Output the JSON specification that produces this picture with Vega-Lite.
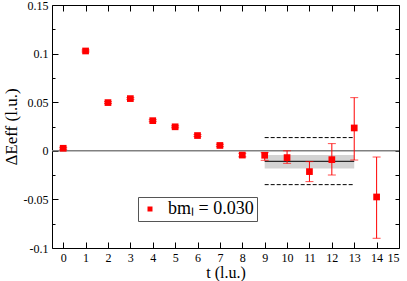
{
  "$schema": "https://vega.github.io/schema/vega-lite/v6.json",
  "autosize": {"type": "none"},
  "padding": {"left": 52, "top": 5, "right": 8, "bottom": 33},
  "width": 347,
  "height": 243,
  "background": "white",
  "config": {
    "view": {"stroke": null},
    "font": "Liberation Serif, DejaVu Serif, serif",
    "axis": {"domainColor": "black", "tickColor": "black", "labelColor": "black", "titleColor": "black", "labelFont": "Liberation Serif, DejaVu Serif, serif", "titleFont": "Liberation Serif, DejaVu Serif, serif", "grid": false, "titleFontWeight": "normal"},
    "legend": {"labelFont": "Liberation Serif, DejaVu Serif, serif"}
  },
  "datasets": {
    "pts": [
      {"t": 0, "y": 0.0026, "lo": 0.0016, "hi": 0.0036, "s": "bmₗ = 0.030"},
      {"t": 1, "y": 0.1027, "lo": 0.1017, "hi": 0.1037, "s": "bmₗ = 0.030"},
      {"t": 2, "y": 0.0496, "lo": 0.0486, "hi": 0.0506, "s": "bmₗ = 0.030"},
      {"t": 3, "y": 0.0537, "lo": 0.0527, "hi": 0.0547, "s": "bmₗ = 0.030"},
      {"t": 4, "y": 0.031, "lo": 0.03, "hi": 0.032, "s": "bmₗ = 0.030"},
      {"t": 5, "y": 0.0247, "lo": 0.0237, "hi": 0.0257, "s": "bmₗ = 0.030"},
      {"t": 6, "y": 0.0157, "lo": 0.0147, "hi": 0.0167, "s": "bmₗ = 0.030"},
      {"t": 7, "y": 0.0055, "lo": 0.0043, "hi": 0.0067, "s": "bmₗ = 0.030"},
      {"t": 8, "y": -0.0044, "lo": -0.0062, "hi": -0.0026, "s": "bmₗ = 0.030"},
      {"t": 9, "y": -0.0046, "lo": -0.0098, "hi": -0.0019, "s": "bmₗ = 0.030"},
      {"t": 10, "y": -0.007, "lo": -0.0129, "hi": 0.0, "s": "bmₗ = 0.030"},
      {"t": 11, "y": -0.0214, "lo": -0.0317, "hi": -0.0111, "s": "bmₗ = 0.030"},
      {"t": 12, "y": -0.0091, "lo": -0.0249, "hi": 0.0074, "s": "bmₗ = 0.030"},
      {"t": 13, "y": 0.0235, "lo": -0.0095, "hi": 0.0547, "s": "bmₗ = 0.030"},
      {"t": 14, "y": -0.0475, "lo": -0.09, "hi": -0.0064, "s": "bmₗ = 0.030"}
    ]
  },
  "resolve": {"axis": {"x": "independent", "y": "independent"}},
  "layer": [
    {
      "data": {"values": [{"t": 9, "t2": 13, "y": -0.0043, "y2": -0.0183}]},
      "mark": {"type": "rect", "color": "#d3d3d3"},
      "encoding": {
        "x": {"field": "t", "type": "quantitative", "scale": {"domain": [-0.5, 15], "nice": false, "zero": false},
              "axis": {"orient": "top", "values": [0,1,2,3,4,5,6,7,8,9,10,11,12,13,14,15], "labels": false, "tickSize": -6, "title": null, "domainWidth": 1}},
        "x2": {"field": "t2"},
        "y": {"field": "y", "type": "quantitative", "scale": {"domain": [-0.1, 0.15], "nice": false, "zero": false},
              "axis": {"orient": "right", "values": [-0.075,-0.05,-0.025,0,0.025,0.05,0.075,0.1,0.125], "labels": false, "tickSize": -4, "title": null}},
        "y2": {"field": "y2"}
      }
    },
    {
      "data": {"values": [{"y": 0}]},
      "mark": {"type": "rule", "color": "#808080", "strokeWidth": 1.5},
      "encoding": {
        "y": {"field": "y", "type": "quantitative", "scale": {"domain": [-0.1, 0.15], "nice": false, "zero": false}, "axis": null}
      }
    },
    {
      "data": {"values": [{"t": 9, "t2": 13, "y": -0.0108}]},
      "mark": {"type": "rule", "color": "black", "strokeWidth": 1},
      "encoding": {
        "x": {"field": "t", "type": "quantitative", "scale": {"domain": [-0.5, 15], "nice": false, "zero": false}, "axis": null},
        "x2": {"field": "t2"},
        "y": {"field": "y", "type": "quantitative", "scale": {"domain": [-0.1, 0.15], "nice": false, "zero": false}, "axis": null}
      }
    },
    {
      "data": {"values": [{"t": 9, "t2": 13, "y": 0.0136}, {"t": 9, "t2": 13, "y": -0.0348}]},
      "mark": {"type": "rule", "color": "black", "strokeWidth": 1, "strokeDash": [4, 2]},
      "encoding": {
        "x": {"field": "t", "type": "quantitative", "scale": {"domain": [-0.5, 15], "nice": false, "zero": false}, "axis": null},
        "x2": {"field": "t2"},
        "y": {"field": "y", "type": "quantitative", "scale": {"domain": [-0.1, 0.15], "nice": false, "zero": false}, "axis": null}
      }
    },
    {
      "data": {"name": "pts"},
      "mark": {"type": "rule", "color": "red", "strokeWidth": 1},
      "encoding": {
        "x": {"field": "t", "type": "quantitative", "scale": {"domain": [-0.5, 15], "nice": false, "zero": false}, "axis": null},
        "y": {"field": "lo", "type": "quantitative", "scale": {"domain": [-0.1, 0.15], "nice": false, "zero": false}, "axis": null},
        "y2": {"field": "hi"}
      }
    },
    {
      "data": {"name": "pts"},
      "mark": {"type": "tick", "color": "red", "orient": "horizontal", "size": 8, "thickness": 1},
      "encoding": {
        "x": {"field": "t", "type": "quantitative", "scale": {"domain": [-0.5, 15], "nice": false, "zero": false}, "axis": null},
        "y": {"field": "lo", "type": "quantitative", "scale": {"domain": [-0.1, 0.15], "nice": false, "zero": false}, "axis": null}
      }
    },
    {
      "data": {"name": "pts"},
      "mark": {"type": "tick", "color": "red", "orient": "horizontal", "size": 8, "thickness": 1},
      "encoding": {
        "x": {"field": "t", "type": "quantitative", "scale": {"domain": [-0.5, 15], "nice": false, "zero": false}, "axis": null},
        "y": {"field": "hi", "type": "quantitative", "scale": {"domain": [-0.1, 0.15], "nice": false, "zero": false}, "axis": null}
      }
    },
    {
      "data": {"name": "pts"},
      "mark": {"type": "square", "size": 45, "opacity": 1},
      "encoding": {
        "x": {"field": "t", "type": "quantitative", "scale": {"domain": [-0.5, 15], "nice": false, "zero": false},
              "axis": {"orient": "bottom", "values": [0,1,2,3,4,5,6,7,8,9,10,11,12,13,14,15], "tickSize": -6, "labelPadding": 10, "labelFont": "Liberation Serif", "labelFontSize": 12, "title": "t (l.u.)", "titleFont": "Liberation Serif", "titleFontSize": 16, "titlePadding": 1}},
        "y": {"field": "y", "type": "quantitative", "scale": {"domain": [-0.1, 0.15], "nice": false, "zero": false},
              "axis": {"orient": "left", "values": [-0.1,-0.075,-0.05,-0.025,0,0.025,0.05,0.075,0.1,0.125,0.15],
                       "tickSize": {"condition": {"test": "abs(datum.value*20 - round(datum.value*20)) < 0.01", "value": -6}, "value": -3},
                       "labelExpr": "abs(datum.value*20 - round(datum.value*20)) < 0.01 ? '' + datum.value : ''",
                       "labelPadding": 10, "labelFont": "Liberation Serif", "labelFontSize": 12, "title": "ΔEeff (l.u.)", "titleFont": "Liberation Serif", "titleFontSize": 17, "titlePadding": 3}},
        "color": {"field": "s", "type": "nominal", "scale": {"range": ["red"]},
                  "legend": {"title": null, "orient": "none", "legendX": 86, "legendY": 192, "strokeColor": "#555555", "padding": 3,
                             "symbolType": "square", "symbolSize": 25, "labelOffset": 9, "labelFont": "Liberation Serif", "labelFontSize": 18, "labelColor": "black", "symbolOpacity": 1}}
      }
    }
  ]
}
